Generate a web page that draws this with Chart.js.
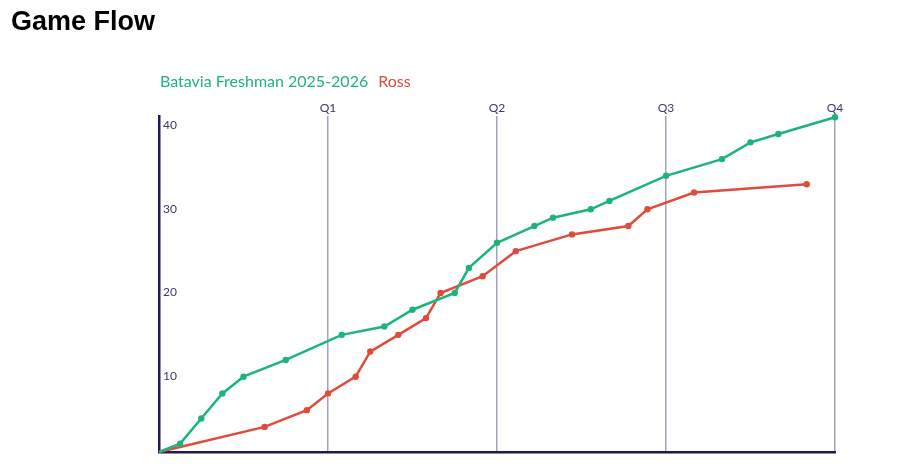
<!DOCTYPE html>
<html>
<head>
<meta charset="utf-8">
<script src="https://cdn.jsdelivr.net/npm/chart.js@4.4.0/dist/chart.umd.min.js"></script>
<style>
  html, body { margin: 0; padding: 0; background: #fff; }
  #wrap { position: relative; width: 908px; height: 473px; }
  #title { position: absolute; left: 11px; top: 8px; font: bold 27px/27px "Liberation Sans", Arial, sans-serif; color: #000; }
  #chart { position: absolute; left: 0; top: 0; }
</style>
</head>
<body>
<div id="wrap">
  <canvas id="chart" width="908" height="473"></canvas>
  <div id="title">Game Flow</div>
</div>
<script>
// game minutes (8 min quarters) and running score
const teamNames = ["Batavia Freshman 2025-2026", "Ross"];
const bataviaMinutes = [0, 1, 2, 3, 4, 6, 8.65, 10.67, 12, 14, 14.67, 16, 17.77, 18.65, 20.44, 21.32, 24, 26.65, 28, 29.32, 32];
const bataviaScores  = [0, 1, 4, 7, 9, 11, 14, 15, 17, 19, 22, 25, 27, 28, 29, 30, 33, 35, 37, 38, 40];
const rossMinutes = [0, 5, 7, 8, 9.31, 10, 11.33, 12.64, 13.33, 15.32, 16.89, 19.55, 22.22, 23.12, 25.33, 30.66];
const rossScores  = [0, 3, 5, 7, 9, 12, 14, 16, 19, 21, 24, 26, 27, 29, 31, 32];
const quarterTicks = [8, 16, 24, 32];
const quarterLabels = ["Q1", "Q2", "Q3", "Q4"];
const scoreTicks = [10, 20, 30, 40];

const green = "#1db47a";
const red = "#e04b3b";
const navy = "#1e1b52";
const textCol = "#3b3968";

const toPoints = (xs, ys) => xs.map((x, i) => ({ x, y: ys[i] }));
// no dot at tip-off
const dotSize = (c) => (c.dataIndex === 0 ? 0 : 3.2);

const ctx = document.getElementById("chart").getContext("2d");
new Chart(ctx, {
  type: "line",
  data: {
    datasets: [
      {
        label: teamNames[0],
        data: toPoints(bataviaMinutes, bataviaScores),
        borderColor: green, backgroundColor: green,
        borderWidth: 2.5, pointRadius: dotSize, pointBorderWidth: 0,
        tension: 0, clip: false
      },
      {
        label: teamNames[1],
        data: toPoints(rossMinutes, rossScores),
        borderColor: red, backgroundColor: red,
        borderWidth: 2.5, pointRadius: dotSize, pointBorderWidth: 0,
        tension: 0, clip: false
      }
    ]
  },
  options: {
    responsive: false,
    animation: false,
    events: [],
    layout: { padding: { left: 150, right: 73, top: 62, bottom: 21 } },
    plugins: {
      tooltip: { enabled: false },
      legend: {
        display: true,
        position: "top",
        align: "start",
        fullSize: true,
        labels: {
          // text only, no colour box
          boxWidth: -10,
          boxHeight: 0,
          padding: 12,
          font: { family: "Lato", size: 16 },
          generateLabels: (chart) => chart.data.datasets.map((ds, i) => ({
            text: ds.label,
            fontColor: ds.borderColor,
            fillStyle: "rgba(0,0,0,0)",
            strokeStyle: "rgba(0,0,0,0)",
            lineWidth: 0,
            datasetIndex: i
          }))
        }
      }
    },
    scales: {
      x: {
        type: "linear",
        position: "top",
        min: 0, max: 32,
        afterBuildTicks: (scale) => { scale.ticks = quarterTicks.map(v => ({ value: v })); },
        ticks: {
          callback: (v, i) => quarterLabels[i],
          color: textCol,
          font: { family: "Lato", size: 12 },
          padding: 1,
          maxRotation: 0
        },
        grid: { color: "#a3a0c6", lineWidth: 1.5, drawTicks: false },
        border: { display: false }
      },
      xb: {
        type: "linear",
        position: "bottom",
        min: 0, max: 32,
        ticks: { display: false },
        grid: { display: false, drawTicks: false },
        border: { display: true, color: navy, width: 2.5 }
      },
      y: {
        type: "linear",
        position: "left",
        min: 0, max: 40.1,
        afterBuildTicks: (scale) => { scale.ticks = scoreTicks.map(v => ({ value: v })); },
        afterFit: (scale) => { scale.width = 9; },
        ticks: {
          mirror: true,
          labelOffset: 8,
          padding: 4,
          color: textCol,
          font: { family: "Lato", size: 12 }
        },
        grid: { display: false, drawTicks: false },
        border: { display: true, color: navy, width: 2.5 }
      }
    }
  }
});
</script>
</body>
</html>
